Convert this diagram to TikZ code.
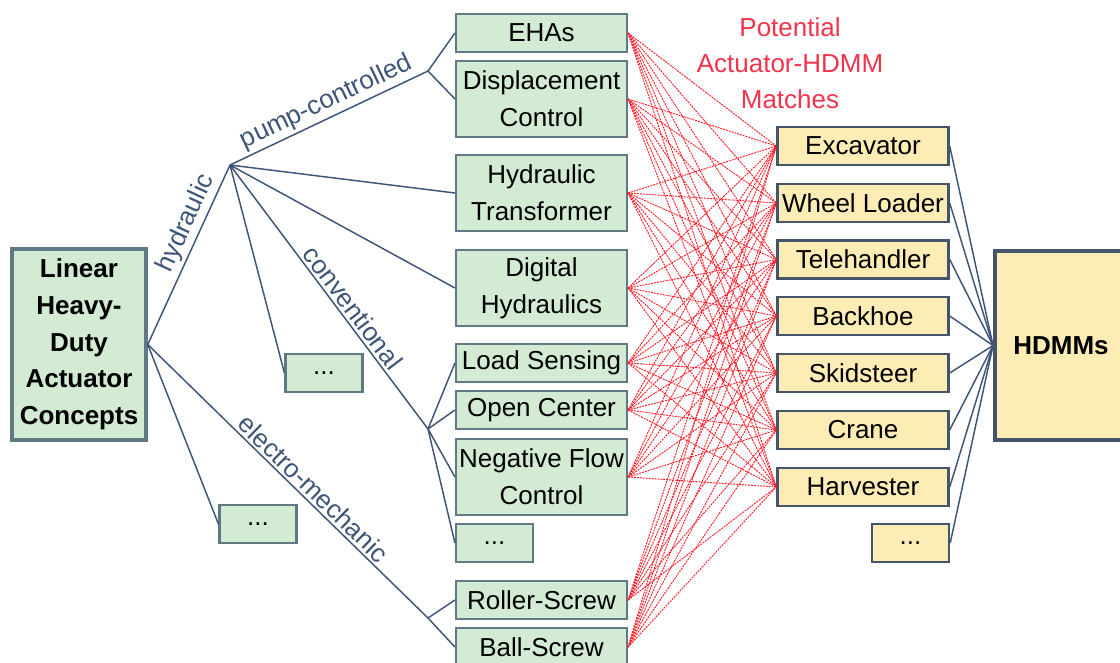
\documentclass[tikz,border=0pt]{standalone}
\usepackage{fontspec}
\setmainfont{Liberation Sans}
\definecolor{actgreen}{HTML}{D3EAD3}
\definecolor{actedge}{HTML}{5F7A84}
\definecolor{hdmmyellow}{HTML}{FDEDB5}
\definecolor{hdmmedge}{HTML}{44546A}
\definecolor{branch}{HTML}{3E5577}
\definecolor{matchred}{HTML}{F2334B}
\definecolor{matchline}{HTML}{FF1E2A}

\tikzset{
  actbox/.style={draw=actedge, fill=actgreen, line width=1.6pt, minimum width=128.25pt,
    minimum height=28.5pt, align=center, inner sep=0pt, font=\fontsize{19.5}{27.5}\selectfont},
  tallbox/.style={actbox, minimum height=57pt},
  dotbox/.style={actbox, minimum width=57.75pt},
  machbox/.style={draw=hdmmedge, fill=hdmmyellow, line width=1.8pt, minimum width=128.25pt,
    minimum height=28.5pt, align=center, inner sep=0pt, font=\fontsize{19.5}{27.5}\selectfont},
  branchline/.style={draw=branch, line width=1.1pt},
  branchlabel/.style={text=branch, font=\fontsize{19.5}{27.5}\selectfont, sloped, above, inner sep=2pt},
  matchline/.style={draw=matchline, line width=0.7pt, dash pattern=on 1.5pt off 0.7pt}
}

\begin{document}
\begin{tikzpicture}[x=0.75pt, y=-0.75pt]
  \useasboundingbox (0,0) rectangle (1120,662);
  \clip (0,0) rectangle (1120,662);

  % root
  \node[actbox, line width=2.6pt, minimum width=100.5pt, minimum height=143.25pt, font=\fontsize{19.5}{27.5}\selectfont\bfseries]
    (root) at (79,344.5) {Linear\\Heavy-\\Duty\\Actuator\\Concepts};

  % branch points
  \coordinate (hydr) at (230,165);
  \coordinate (pump) at (428,71);
  \coordinate (conv) at (428,429);
  \coordinate (elec) at (428,618);

  % actuator concepts
  \node[actbox]  (ehas)    at (541.5,33)  {EHAs};
  \node[tallbox] (disp)    at (541.5,99)  {Displacement\\Control};
  \node[tallbox] (trans)   at (541.5,193) {Hydraulic\\Transformer};
  \node[tallbox] (digital) at (541.5,288) {Digital\\Hydraulics};
  \node[actbox]  (load)    at (541.5,363) {Load Sensing};
  \node[actbox]  (open)    at (541.5,410) {Open Center};
  \node[tallbox] (negflow) at (541.5,477) {Negative Flow\\Control};
  \node[dotbox]  (convdots) at (494.5,543) {...};
  \node[actbox]  (roller)  at (541.5,600) {Roller-Screw};
  \node[actbox]  (ball)    at (541.5,647) {Ball-Screw};
  \node[dotbox]  (hydrdots) at (324,373) {...};
  \node[dotbox]  (elecdots) at (258,524) {...};

  % machines
  \node[machbox] (excavator)   at (863,146)   {Excavator};
  \node[machbox] (loader)      at (863,203)   {Wheel Loader};
  \node[machbox] (telehandler) at (863,259.5) {Telehandler};
  \node[machbox] (backhoe)     at (863,316)   {Backhoe};
  \node[machbox] (skidsteer)   at (863,373)   {Skidsteer};
  \node[machbox] (crane)       at (863,430)   {Crane};
  \node[machbox] (harvester)   at (863,487)   {Harvester};
  \node[machbox, minimum width=57.75pt] (machdots) at (910.5,543) {...};
  \node[machbox, line width=3pt, minimum width=99pt, minimum height=141.75pt, font=\fontsize{19.5}{27.5}\selectfont\bfseries]
    (hdmm) at (1061,345.5) {HDMMs};

  \node[text=matchred, align=center, font=\fontsize{19.5}{27}\selectfont] (matches) at (790,63)
    {Potential\\Actuator-HDMM\\Matches};

  % tree
  \draw[branchline] (root.east) -- node[branchlabel, pos=0.64] {hydraulic} (hydr);
  \draw[branchline] (root.east) -- node[branchlabel, pos=0.56] {electro-mechanic} (elec);
  \draw[branchline] (root.east) -- (elecdots.west);
  \draw[branchline] (hydr) -- node[branchlabel, pos=0.52] {pump-controlled} (pump);
  \draw[branchline] (hydr) -- node[branchlabel, pos=0.57] {conventional} (conv);
  \draw[branchline] (hydr) -- (trans.west);
  \draw[branchline] (hydr) -- (digital.west);
  \draw[branchline] (hydr) -- (hydrdots.west);
  \draw[branchline] (pump) -- (ehas.west);
  \draw[branchline] (pump) -- (disp.west);
  \foreach \n in {load,open,negflow,convdots}
    \draw[branchline] (conv) -- (\n.west);
  \draw[branchline] (elec) -- (roller.west);
  \draw[branchline] (elec) -- (ball.west);

  % machines to HDMMs
  \foreach \m in {excavator,loader,telehandler,backhoe,skidsteer,crane,harvester,machdots}
    \draw[branchline] (\m.east) -- (hdmm.west);

  % potential matches
  \foreach \a in {ehas,disp,trans,digital,load,open,negflow,roller,ball}
    \foreach \b in {excavator,loader,telehandler,backhoe,skidsteer,crane,harvester}
      \draw[matchline] (\a.east) -- (\b.west);
\end{tikzpicture}
\end{document}
